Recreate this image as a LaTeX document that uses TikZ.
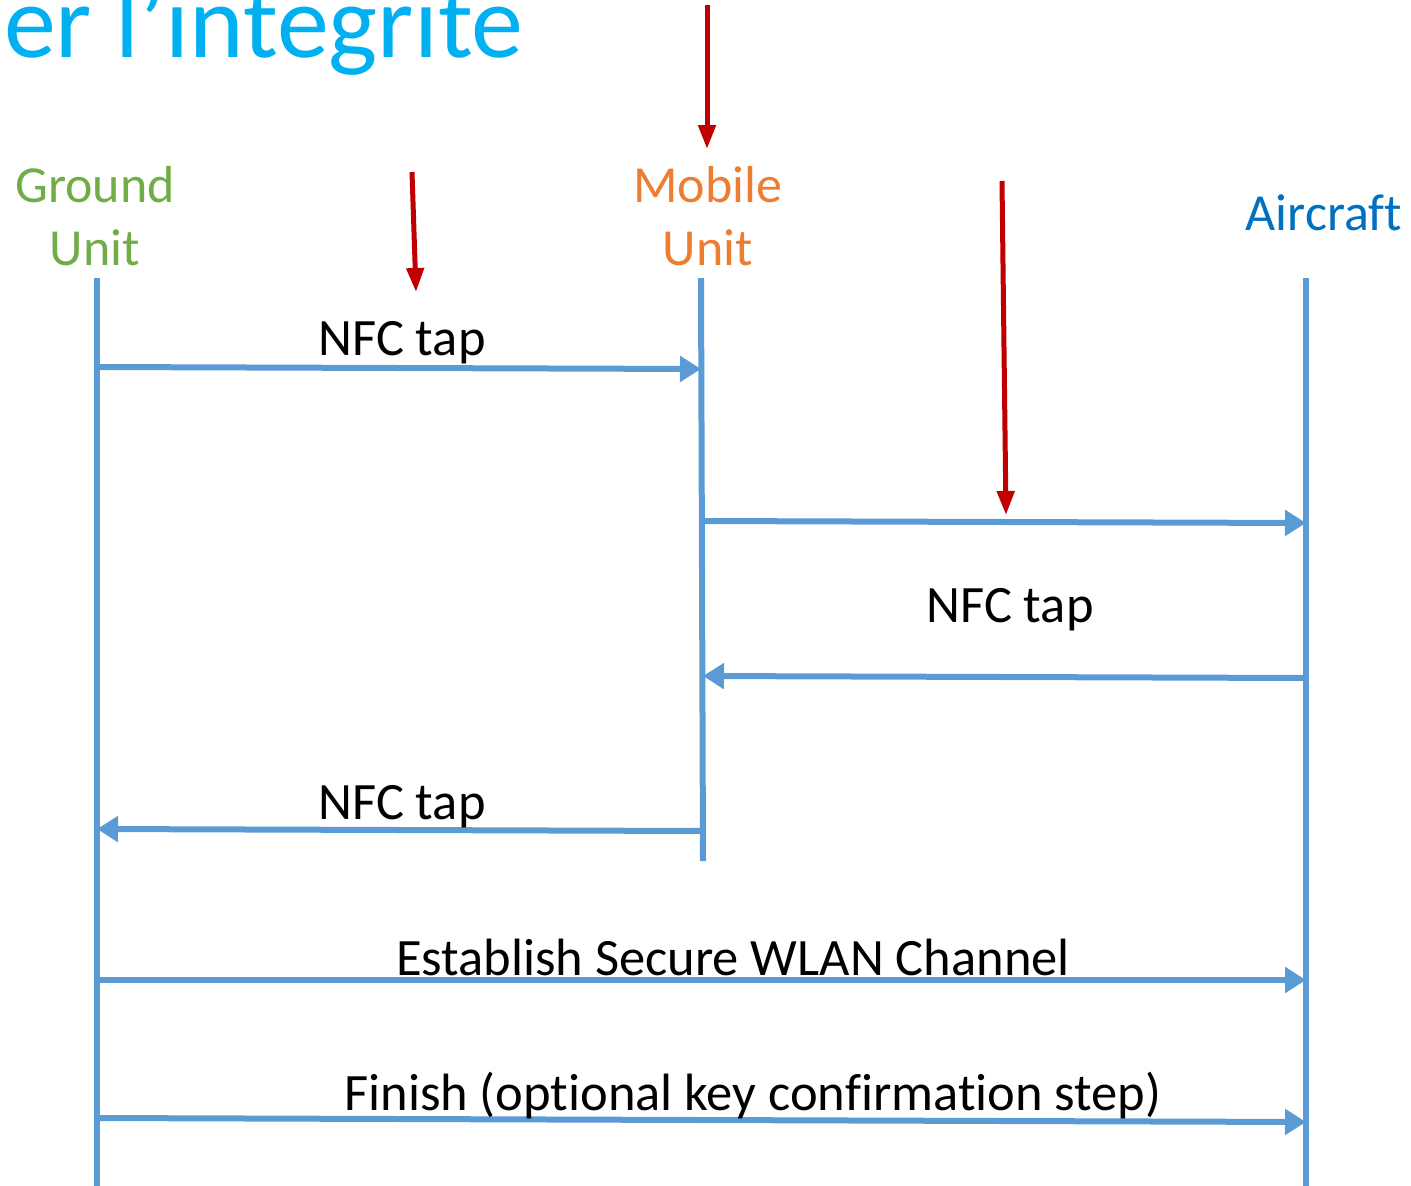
\documentclass[tikz,border=0pt]{standalone}
\usepackage{fontspec}
\setmainfont{Carlito}[Ligatures={NoCommon}]
\usetikzlibrary{arrows.meta}
\definecolor{lifeblue}{HTML}{5B9BD5}
\definecolor{titleblue}{HTML}{00B0F0}
\definecolor{groundgreen}{HTML}{70AD47}
\definecolor{mobileorange}{HTML}{ED7D31}
\definecolor{aircraftblue}{HTML}{0070C0}
\definecolor{markred}{HTML}{C00000}
\tikzset{
  lifeline/.style={draw=lifeblue, line width=6pt},
  msg/.style={draw=lifeblue, line width=6pt, -{Triangle[length=21pt,width=25pt]}},
  marker/.style={draw=markred, line width=5pt, -{Triangle[length=24pt,width=17pt]}},
  msglabel/.style={anchor=base, inner sep=0pt, font=\fontsize{52.5}{63}\selectfont},
  actor/.style={anchor=base, inner sep=0pt, align=center, font=\fontsize{52}{63}\selectfont},
}
\begin{document}
\begin{tikzpicture}[x=1pt,y=-1pt]
\useasboundingbox (0,0) rectangle (1411,1186);
% title (clipped by the top edge, as in the reference)
\begin{scope}
\clip (0,0) rectangle (1411,1186);
\node[anchor=base west, inner sep=0pt, text=titleblue, font=\fontsize{104}{120}\selectfont] (title) at (4,57) {er l’intégrité};
\end{scope}
% actors
\node[actor, text=groundgreen] (ground) at (95,202) {Ground};
\node[actor, text=groundgreen] (groundu) at (95,265) {Unit};
\node[actor, text=mobileorange] (mobile) at (708,202) {Mobile};
\node[actor, text=mobileorange] (mobileu) at (708,265) {Unit};
\node[actor, text=aircraftblue] (aircraft) at (1324,230) {Aircraft};
% lifelines
\coordinate (gtop) at (97,278);
\coordinate (gbot) at (97,1186);
\coordinate (mtop) at (701,278);
\coordinate (mbot) at (703,861);
\coordinate (atop) at (1306,278);
\coordinate (abot) at (1306,1186);
\draw[lifeline] (gtop) -- (gbot);
\draw[lifeline] (mtop) -- (mbot);
\draw[lifeline] (atop) -- (abot);
% messages
\coordinate (m1s) at (97,367);  \coordinate (m1e) at (701,369);
\coordinate (m2s) at (704,521); \coordinate (m2e) at (1306,523);
\coordinate (m3s) at (1306,678); \coordinate (m3e) at (703,676);
\coordinate (m4s) at (703,831); \coordinate (m4e) at (97,829);
\coordinate (m5s) at (97,980);  \coordinate (m5e) at (1306,980);
\coordinate (m6s) at (97,1118); \coordinate (m6e) at (1306,1122);
\draw[msg] (m1s) -- (m1e);
\draw[msg] (m2s) -- (m2e);
\draw[msg] (m3s) -- (m3e);
\draw[msg] (m4s) -- (m4e);
\draw[msg] (m5s) -- (m5e);
\draw[msg] (m6s) -- (m6e);
\node[msglabel] (l1) at (402,355) {NFC tap};
\node[msglabel] (l3) at (1010,622) {NFC tap};
\node[msglabel] (l4) at (402,819) {NFC tap};
\node[msglabel] (l5) at (733,975) {Establish Secure WLAN Channel};
\node[msglabel] (l6) at (753,1110) {Finish (optional key confirmation step)};
% red markers
\coordinate (r1s) at (707,5);    \coordinate (r1e) at (707,149);
\coordinate (r2s) at (412,172);  \coordinate (r2e) at (416,292);
\coordinate (r3s) at (1002,181); \coordinate (r3e) at (1006,515);
\draw[marker] (r1s) -- (r1e);
\draw[marker] (r2s) -- (r2e);
\draw[marker] (r3s) -- (r3e);
\end{tikzpicture}
\end{document}
